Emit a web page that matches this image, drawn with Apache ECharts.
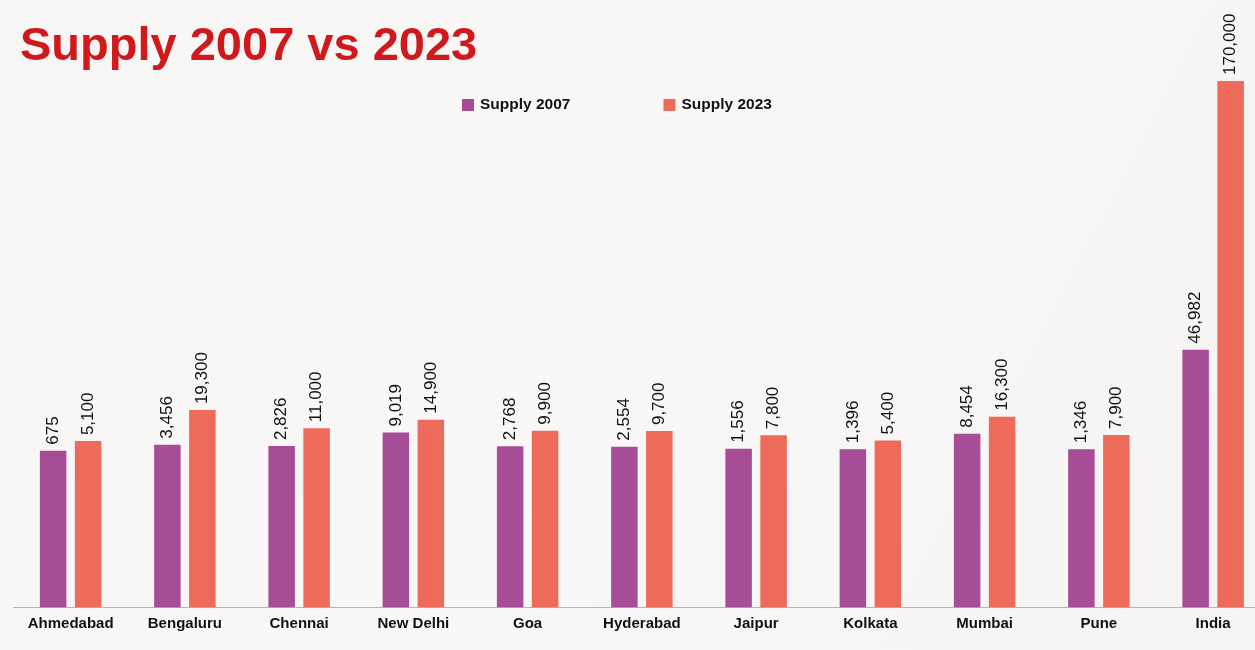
<!DOCTYPE html>
<html>
<head>
<meta charset="utf-8">
<script src="https://cdn.jsdelivr.net/npm/echarts@6/dist/echarts.min.js"></script>
<style>
html,body{margin:0;padding:0;background:#f8f6f4;}
#chart{width:1255px;height:650px;}
</style>
</head>
<body>
<div id="chart"></div>
<script>
const categories = ['Ahmedabad','Bengaluru','Chennai','New Delhi','Goa','Hyderabad','Jaipur','Kolkata','Mumbai','Pune','India'];
const supply2007 = [675, 3456, 2826, 9019, 2768, 2554, 1556, 1396, 8454, 1346, 46982];
const supply2023 = [5100, 19300, 11000, 14900, 9900, 9700, 7800, 5400, 16300, 7900, 170000];
// The original graphic draws bars from an offset baseline well below zero
const axisMin = -71000;
const axisMax = 189000;

const chart = echarts.init(document.getElementById('chart'), null, {renderer: 'canvas'});
const fmt = v => v.toLocaleString('en-US');
const FONT = '"Liberation Sans", Arial, sans-serif';
const purple = '#a74d97';
const orange = '#ee6a5a';

function labelCfg() {
  return {
    show: true,
    position: 'top',
    rotate: 90,
    align: 'left',
    verticalAlign: 'middle',
    distance: 6,
    color: '#111',
    fontFamily: FONT,
    fontSize: 17,
    formatter: p => fmt(p.value)
  };
}

chart.setOption({
  backgroundColor: {
    type: 'linear', x: 0, y: 0, x2: 1, y2: 1,
    colorStops: [{offset: 0, color: '#f7f6f5'}, {offset: 0.5, color: '#faf8f6'}, {offset: 1, color: '#f6f4f2'}]
  },
  animation: false,
  title: {
    text: 'Supply 2007 vs 2023',
    left: 15, top: 19,
    textStyle: {color: '#d0191c', fontFamily: FONT, fontWeight: 'bold', fontSize: 47}
  },
  legend: {
    data: ['Supply 2007', 'Supply 2023'],
    left: 457, top: 92,
    itemWidth: 12, itemHeight: 12, itemGap: 93,
    icon: 'rect',
    textStyle: {color: '#111', fontFamily: FONT, fontSize: 15.5, fontWeight: 'bold', padding: [0, 0, 0, 1]}
  },
  grid: {left: 13.5, width: 1256.75, top: 39.5, bottom: 42.7, containLabel: false, outerBoundsMode: 'none'},
  xAxis: {
    type: 'category',
    data: categories,
    axisLine: {onZero: false, lineStyle: {color: '#b5b5b5', width: 1}},
    axisTick: {show: false},
    axisLabel: {color: '#111', fontFamily: FONT, fontSize: 15, fontWeight: 'bold', margin: 9}
  },
  yAxis: {
    type: 'value', min: axisMin, max: axisMax, startValue: axisMin, show: false,
    splitLine: {show: false}
  },
  series: [
    {name: 'Supply 2007', type: 'bar', data: supply2007, barWidth: 26.5, barGap: '32%',
     itemStyle: {color: purple}, label: labelCfg()},
    {name: 'Supply 2023', type: 'bar', data: supply2023, barWidth: 26.5, barGap: '32%',
     itemStyle: {color: orange}, label: labelCfg()}
  ]
});
</script>
</body>
</html>
